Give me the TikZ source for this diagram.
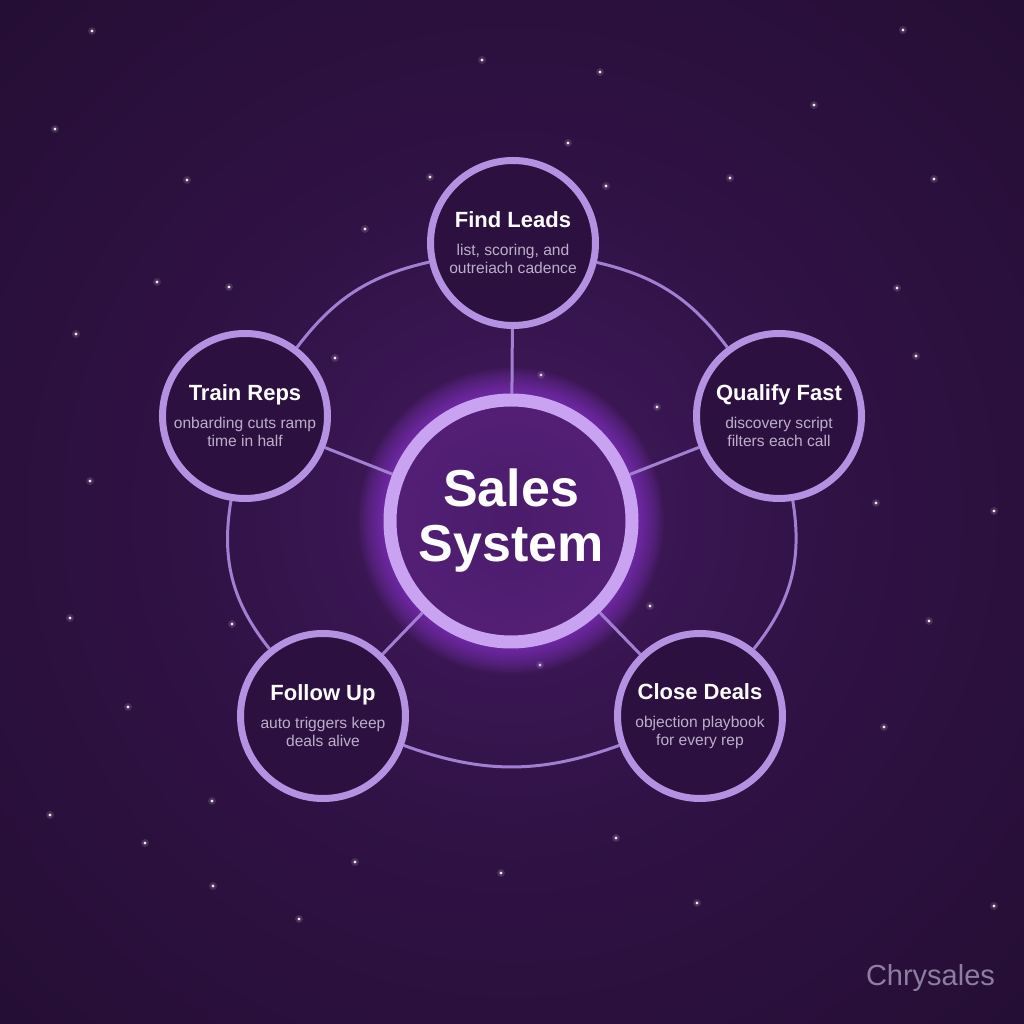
\documentclass[tikz,border=0pt]{standalone}
\usepackage{fontspec}
\setmainfont{Liberation Sans}

\definecolor{bgin}{HTML}{43195E}
\definecolor{bgmid}{HTML}{301245}
\definecolor{bgout}{HTML}{1C0B28}
\definecolor{ringc}{HTML}{B491E1}
\definecolor{linkc}{HTML}{A27FD0}
\definecolor{hubring}{HTML}{C9A2F2}
\definecolor{hubin}{HTML}{4A1C6A}
\definecolor{hubmid}{HTML}{56207A}
\definecolor{hubout}{HTML}{7831A4}
\definecolor{glowc}{HTML}{9B3FE6}
\definecolor{satfill}{HTML}{2C1140}
\definecolor{subc}{HTML}{BDAECB}
\definecolor{markc}{HTML}{8E7EA0}

\pgfdeclareradialshading{skyglow}{\pgfpoint{0bp}{0bp}}{color(0bp)=(bgin); color(16bp)=(bgmid); color(50bp)=(bgout); color(75bp)=(bgout)}
\pgfdeclareradialshading{hubglow}{\pgfpoint{0bp}{0bp}}{color(0bp)=(hubin); color(32bp)=(hubmid); color(50bp)=(hubout)}

\pgfdeclarelayer{sky}
\pgfdeclarelayer{links}
\pgfsetlayers{sky,links,main}

\newcommand{\ttltxt}{\bfseries\fontsize{11}{9}\selectfont}
\newcommand{\subtxt}{\fontsize{7.8}{9}\selectfont\color{subc}}

\begin{document}
\begin{tikzpicture}[x=0.5pt, y=0.5pt,
    sat/.style={circle, draw=ringc, line width=3.5pt, fill=satfill, minimum size=82.5pt, inner sep=0pt, align=center, text=white, font=\fontsize{7.8}{9}\selectfont},
    hub/.style={circle, draw=hubring, line width=6.5pt, shading=hubglow, minimum size=121pt, inner sep=0pt, align=center, text=white, font=\bfseries\fontsize{26}{27.5}\selectfont},
    link/.style={draw=linkc, line width=1.5pt}]
  \useasboundingbox (0,0) rectangle (1024,1024);

  % center and the five steps
  \node[hub] (hub) at (511,503) {Sales\\System};
  \node[sat] (lead) at (513,781) {\ttltxt Find Leads\\[5pt]\subtxt list, scoring, and\\\subtxt outreiach cadence};
  \node[sat] (qual) at (779,608) {\ttltxt Qualify Fast\\[5pt]\subtxt discovery script\\\subtxt filters each call};
  \node[sat] (close) at (700,308) {\ttltxt Close Deals\\[5pt]\subtxt objection playbook\\\subtxt for every rep};
  \node[sat] (follow) at (323,308) {\ttltxt Follow Up\\[5pt]\subtxt auto triggers keep\\\subtxt deals alive};
  \node[sat] (train) at (245,608) {\ttltxt Train Reps\\[5pt]\subtxt onbarding cuts ramp\\\subtxt time in half};

  \node[text=markc, font=\fontsize{14.5}{16}\selectfont, anchor=base east] (mark) at (1002,39) {Chrysales};

  \begin{pgfonlayer}{sky}
    \shade[shading=skyglow] (0,0) rectangle (1024,1024);
    \foreach \sx/\sy in {92/31,482/60,600/72,903/30,814/105,55/129,568/143,187/180,430/177,606/186,
        730/178,934/179,157/282,229/287,897/288,76/334,365/229,335/358,916/356,657/407,
        541/375,90/481,876/503,994/511,232/624,70/618,929/621,650/606,540/665,884/727,
        128/707,212/801,50/815,145/843,355/862,213/886,299/919,501/873,616/838,697/903,994/906}
    {
      \fill[white, opacity=0.12] (\sx,1024-\sy) circle[radius=4];
      \fill[white, opacity=0.9] (\sx,1024-\sy) circle[radius=1.7];
    }
    \foreach \w in {2,4,...,26}
      \draw[glowc, opacity=0.06, line width=\w pt] (hub.center) circle[radius=127];
  \end{pgfonlayer}

  \begin{pgfonlayer}{links}
    \draw[link] (hub) -- (lead);
    \draw[link] (hub) -- (qual);
    \draw[link] (hub) -- (close);
    \draw[link] (hub) -- (follow);
    \draw[link] (hub) -- (train);
    \draw[link] (lead) to[bend left=20] (qual);
    \draw[link] (qual) to[bend left=24] (close);
    \draw[link] (close) to[bend left=20] (follow);
    \draw[link] (follow) to[bend left=24] (train);
    \draw[link] (train) to[bend left=20] (lead);
  \end{pgfonlayer}
\end{tikzpicture}
\end{document}
